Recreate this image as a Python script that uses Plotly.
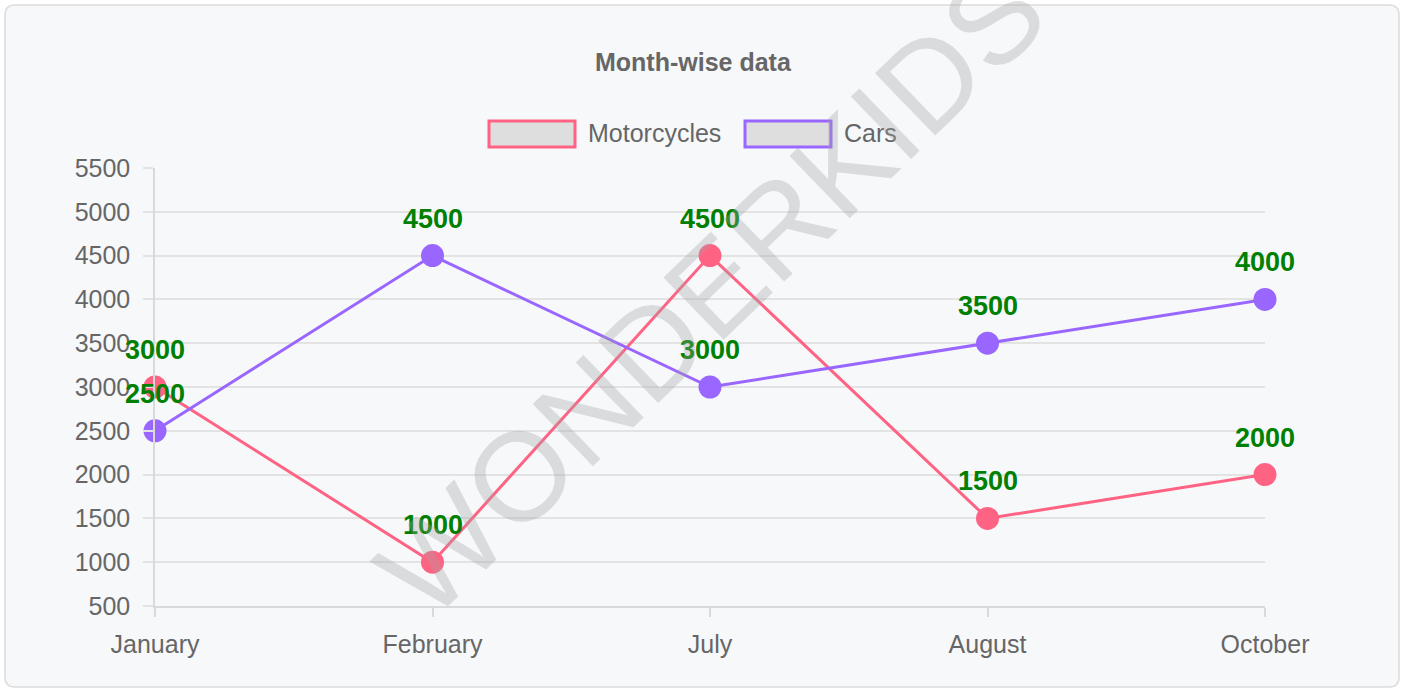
import plotly.graph_objects as go

months = ["January", "February", "July", "August", "October"]
motorcycles = [3000, 1000, 4500, 1500, 2000]
cars = [2500, 4500, 3000, 3500, 4000]
y_ticks = [500, 1000, 1500, 2000, 2500, 3000, 3500, 4000, 4500, 5000, 5500]

W, H = 1403, 690
L, R, T, B = 155, 1265, 168, 606
PINK = "#ff6384"
PURPLE = "#9966ff"
GREY = "#666666"
FONT = "Liberation Sans, Arial, sans-serif"


def px(x):
    return (x - L) / (R - L)


def py(y):
    return (B - y) / (B - T)


fig = go.Figure()
for name, vals, col in [("Motorcycles", motorcycles, PINK), ("Cars", cars, PURPLE)]:
    fig.add_trace(go.Scatter(
        x=months, y=vals, name=name, mode="lines+markers",
        line=dict(color=col, width=3),
        marker=dict(color=col, size=23, line=dict(width=0)),
        showlegend=False, cliponaxis=False,
    ))

annotations = []
for vals in (motorcycles, cars):
    for m, v in zip(months, vals):
        annotations.append(dict(
            x=m, y=v, xref="x", yref="y", text=str(v), showarrow=False,
            xanchor="center", yanchor="middle",
            yshift=37, font=dict(family=FONT, size=27, color="#008000", weight="bold"),
        ))

# title
annotations.append(dict(x=px(693), y=py(62), xref="paper", yref="paper",
                        xanchor="center", yanchor="middle",
                        text="<b>Month-wise data</b>", showarrow=False,
                        font=dict(family=FONT, size=25, color=GREY)))

# custom legend
shapes = []
legend_items = [("Motorcycles", PINK, 489), ("Cars", PURPLE, 745)]
for name, col, x0 in legend_items:
    shapes.append(dict(type="rect", xref="paper", yref="paper",
                       x0=px(x0), x1=px(x0 + 86), y0=py(147), y1=py(121),
                       fillcolor="#dedede", line=dict(color=col, width=3), layer="above"))
    annotations.append(dict(x=px(x0 + 97), y=py(133), xref="paper", yref="paper",
                            xanchor="left", yanchor="middle", text=name, showarrow=False,
                            font=dict(family=FONT, size=25, color=GREY)))

# watermark
annotations.append(dict(x=px(711), y=py(291), xref="paper", yref="paper",
                        xanchor="center", yanchor="middle",
                        text="WONDERKIDS", showarrow=False, textangle=-44,
                        font=dict(family=FONT, size=126, color="rgba(160,160,160,0.33)")))

# rounded card background
r = 10
x0, x1, y0, y1 = 5, 1399, 5, 687
path = (f"M {px(x0 + r)} {py(y0)} L {px(x1 - r)} {py(y0)} "
        f"Q {px(x1)} {py(y0)} {px(x1)} {py(y0 + r)} L {px(x1)} {py(y1 - r)} "
        f"Q {px(x1)} {py(y1)} {px(x1 - r)} {py(y1)} L {px(x0 + r)} {py(y1)} "
        f"Q {px(x0)} {py(y1)} {px(x0)} {py(y1 - r)} L {px(x0)} {py(y0 + r)} "
        f"Q {px(x0)} {py(y0)} {px(x0 + r)} {py(y0)} Z")
shapes.append(dict(type="path", xref="paper", yref="paper", path=path,
                   fillcolor="#f7f8fa", line=dict(color="#dcdcdc", width=1.5), layer="below"))

fig.update_layout(
    width=W, height=H,
    margin=dict(l=L, r=W - R, t=T, b=H - B, pad=0),
    paper_bgcolor="white", plot_bgcolor="rgba(0,0,0,0)",
    annotations=annotations, shapes=shapes,
    font=dict(family=FONT, color=GREY, size=25),
    xaxis=dict(
        type="category", range=[0, len(months) - 1], showgrid=False,
        showline=True, linecolor="#d9d9d9", linewidth=1.5,
        ticks="outside", ticklen=9, tickcolor="#d9d9d9", tickwidth=1.5,
        ticklabelstandoff=6,
        tickfont=dict(family=FONT, size=25, color=GREY), zeroline=False,
    ),
    yaxis=dict(
        range=[500, 5500], tickvals=y_ticks, showgrid=True, gridcolor="#e3e3e3", gridwidth=1.5,
        showline=True, linecolor="#d9d9d9", linewidth=1.5,
        ticks="outside", ticklen=10, tickcolor="#e3e3e3", tickwidth=1.5,
        ticklabelstandoff=8,
        tickfont=dict(family=FONT, size=25, color=GREY), zeroline=False,
    ),
)

fig.write_html(
    "out.html",
    config={"displayModeBar": False},
    post_script="document.body.style.margin='0';document.body.style.overflow='hidden';"
                "document.documentElement.style.overflow='hidden';",
)
